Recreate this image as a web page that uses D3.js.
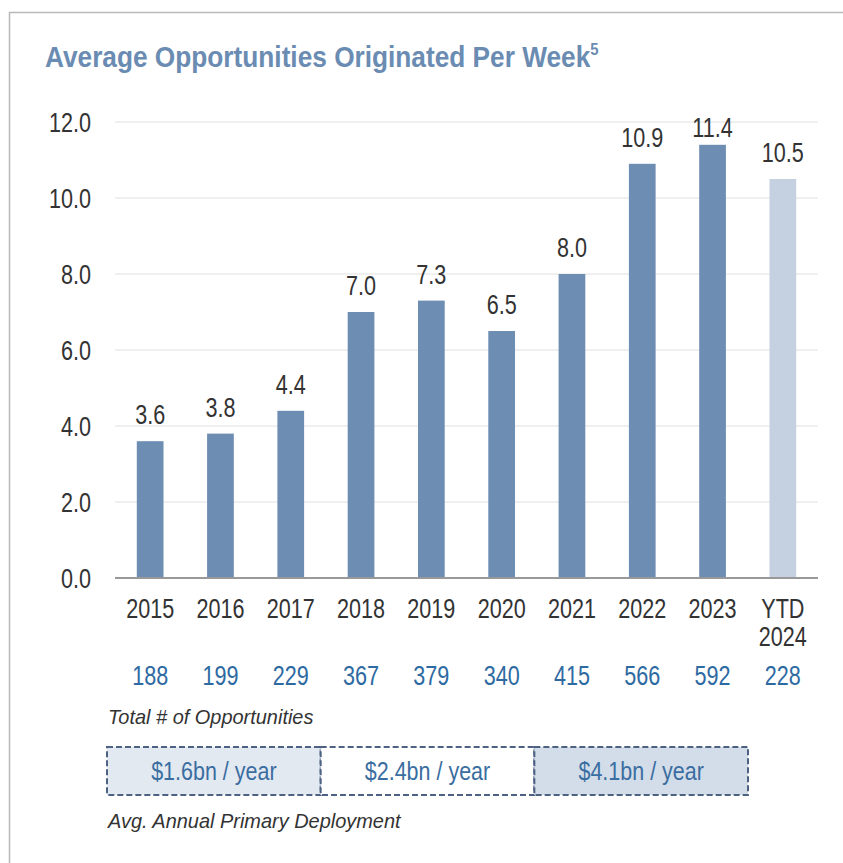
<!DOCTYPE html>
<html>
<head>
<meta charset="utf-8">
<script src="https://cdn.jsdelivr.net/npm/d3@7/dist/d3.min.js"></script>
<style>
  body { margin: 0; background: #fff; }
  svg text { font-family: "Liberation Sans", Arial, sans-serif; }
</style>
</head>
<body>
<div id="chart"></div>
<script>
var years = ['2015', '2016', '2017', '2018', '2019', '2020', '2021', '2022', '2023', 'YTD 2024'];
var avgPerWeek = [3.6, 3.8, 4.4, 7.0, 7.3, 6.5, 8.0, 10.9, 11.4, 10.5];
var totalOpps = [188, 199, 229, 367, 379, 340, 415, 566, 592, 228];
var yTicks = [0, 2, 4, 6, 8, 10, 12];
var deployLabels = ['$1.6bn / year', '$2.4bn / year', '$4.1bn / year'];
// how many years each deployment box spans
var deploySpans = [3, 3, 3];

var width = 843, height = 863;
var NARROW = 0.8; // fake a narrow face by squeezing horizontally

var svg = d3.select('#chart').append('svg').attr('width', width).attr('height', height);

// put text at x,y and squeeze it
function place(sel, fx, fy, s) {
  sel.attr('x', 0).attr('y', 0).attr('transform', function (d, i) {
    return 'translate(' + fx(d, i) + ',' + fy(d, i) + ') scale(' + (s || NARROW) + ',1)';
  });
  return sel;
}

// frame
svg.append('path')
  .attr('d', 'M9.5,' + height + 'V12.5H' + width)
  .attr('fill', 'none').attr('stroke', '#b8b8b8').attr('stroke-width', 1.5);

var title = svg.append('text')
  .attr('fill', '#6b8cb2').style('font-size', '30px').style('font-weight', 'bold')
  .text('Average Opportunities Originated Per Week');
title.append('tspan').attr('dy', -12).style('font-size', '17px').text('5');
place(title, function () { return 45; }, function () { return 67; }, 0.875);

var x = d3.scaleBand().domain(years).range([115, 818]).paddingInner(0.62).paddingOuter(0.31);
var y = d3.scaleLinear().domain([0, 12]).range([578, 122]);
var cx = function (d, i) { return x(years[i]) + x.bandwidth() / 2; };

// gridlines
svg.append('g').selectAll('line').data(yTicks.slice(1)).enter().append('line')
  .attr('x1', 115).attr('x2', 818)
  .attr('y1', function (d) { return y(d); }).attr('y2', function (d) { return y(d); })
  .attr('stroke', '#e0e0e0').attr('stroke-width', 1);

var yAxis = svg.append('g').attr('transform', 'translate(115,0)')
  .call(d3.axisLeft(y).tickValues(yTicks).tickFormat(d3.format('.1f')).tickSize(0));
yAxis.select('.domain').remove();
yAxis.selectAll('text').style('font-size', '27px').attr('fill', '#333')
  .attr('x', 0).attr('dy', '0.36em').attr('transform', 'translate(-24,0) scale(' + NARROW + ',1)');

// bars
svg.append('g').selectAll('rect').data(avgPerWeek).enter().append('rect')
  .attr('x', function (d, i) { return x(years[i]); })
  .attr('y', function (d) { return y(d); })
  .attr('width', x.bandwidth())
  .attr('height', function (d) { return y(0) - y(d); })
  .attr('fill', function (d, i) { return i === years.length - 1 ? '#c5d1e0' : '#6d8db3'; });

// value labels, kept from poking above the top gridline
place(svg.append('g').selectAll('text').data(avgPerWeek).enter().append('text')
  .attr('text-anchor', 'middle').attr('fill', '#333').style('font-size', '27px')
  .text(function (d) { return d.toFixed(1); }),
  cx, function (d) { return Math.max(y(d) - 17, y(12) + 15); });

// baseline
svg.append('line').attr('x1', 115).attr('x2', 818).attr('y1', y(0)).attr('y2', y(0))
  .attr('stroke', '#999').attr('stroke-width', 2);

// category labels (split on space into lines)
var catLines = [];
years.forEach(function (d, i) {
  d.split(' ').forEach(function (p, j) { catLines.push({ t: p, i: i, j: j }); });
});
place(svg.append('g').selectAll('text').data(catLines).enter().append('text')
  .attr('text-anchor', 'middle').attr('fill', '#333').style('font-size', '27px')
  .text(function (d) { return d.t; }),
  function (d) { return cx(null, d.i); }, function (d) { return 618 + d.j * 28; });

// totals row
place(svg.append('g').selectAll('text').data(totalOpps).enter().append('text')
  .attr('text-anchor', 'middle').attr('fill', '#2e6aa2').style('font-size', '27px')
  .text(function (d) { return d; }),
  cx, function () { return 685; });

place(svg.append('text')
  .attr('fill', '#333').style('font-size', '21px').style('font-style', 'italic')
  .text('Total # of Opportunities'),
  function () { return 108; }, function () { return 724; }, 0.95);

// deployment boxes
var boxFills = ['#e3e9f1', '#ffffff', '#d3dce9'];
var boxX = d3.scaleLinear().domain([0, 9]).range([107, 748]);
var start = 0;
var boxes = deployLabels.map(function (lab, i) {
  var b = { label: lab, s: start, e: start + deploySpans[i], fill: boxFills[i] };
  start += deploySpans[i];
  return b;
});
var bg = svg.append('g').selectAll('g').data(boxes).enter().append('g');
bg.append('rect')
  .attr('x', function (d) { return boxX(d.s); })
  .attr('y', 747).attr('height', 48)
  .attr('width', function (d) { return boxX(d.e) - boxX(d.s); })
  .attr('fill', function (d) { return d.fill; })
  .attr('stroke', '#4d6282').attr('stroke-width', 2).attr('stroke-dasharray', '6,3');
place(bg.append('text')
  .attr('text-anchor', 'middle').attr('fill', '#3a6da0').style('font-size', '25px')
  .text(function (d) { return d.label; }),
  function (d) { return (boxX(d.s) + boxX(d.e)) / 2; }, function () { return 780; }, 0.86);

place(svg.append('text')
  .attr('fill', '#333').style('font-size', '21px').style('font-style', 'italic')
  .text('Avg. Annual Primary Deployment'),
  function () { return 108; }, function () { return 828; }, 0.95);
</script>
</body>
</html>
